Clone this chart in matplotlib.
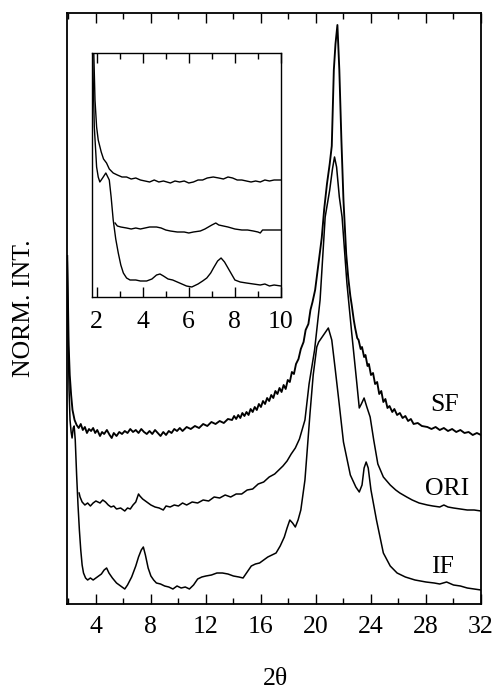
import numpy as np
import matplotlib
matplotlib.use("Agg")
import matplotlib.pyplot as plt
from matplotlib.ticker import FixedLocator

plt.rcParams['font.family'] = ['Liberation Serif', 'DejaVu Serif']

# ---------------- main pattern (2theta, intensity a.u.) ----------------
sf_x = [1.92, 1.97, 2.02, 2.1, 2.2, 2.3, 2.45, 2.6, 2.75, 2.9, 3.05, 3.2, 3.35, 3.5, 3.65, 3.8, 3.95,
        4.1, 4.3, 4.45, 4.6, 4.8, 5.0, 5.15, 5.3, 5.5, 5.7, 5.9, 6.1, 6.3, 6.5, 6.7, 6.9, 7.1, 7.3,
        7.5, 7.7, 7.9, 8.1, 8.3, 8.5, 8.7, 8.9, 9.1, 9.3, 9.5, 9.7, 9.9, 10.1, 10.3, 10.6, 10.9,
        11.2, 11.5, 11.8, 12.1, 12.4, 12.7, 13.0, 13.3, 13.6, 13.9, 14.05, 14.2, 14.35, 14.5,
        14.65, 14.8, 14.95, 15.1, 15.25, 15.4, 15.55, 15.7, 15.85, 16.0, 16.15, 16.3, 16.45, 16.6,
        16.75, 16.9, 17.05, 17.2, 17.35, 17.5, 17.65, 17.8, 17.95, 18.1, 18.25, 18.4, 18.55, 18.73,
        18.9, 19.1, 19.25, 19.45, 19.6, 19.75, 19.94, 20.2, 20.42, 20.6, 20.8, 21.0, 21.15, 21.3,
        21.42, 21.56, 21.7, 21.85, 22.0, 22.2, 22.35, 22.5, 22.6, 22.75, 22.85, 23.0, 23.1, 23.25,
        23.35, 23.5, 23.6, 23.75, 23.85, 24.0, 24.15, 24.3, 24.45, 24.6, 24.75, 24.9, 25.05, 25.2,
        25.35, 25.55, 25.7, 25.9, 26.1, 26.3, 26.5, 26.7, 26.9, 27.1, 27.4, 27.7, 28.1, 28.4,
        28.7, 29.0, 29.3, 29.6, 29.9, 30.2, 30.5, 30.8, 31.1, 31.4, 31.7, 32.0]
sf_y = [348, 304, 259, 229, 209, 194, 184, 179, 176, 180, 174, 177, 171, 175, 173, 176, 171,
        174, 168, 172, 170, 174, 169, 166, 171, 168, 172, 170, 173, 171, 175, 172, 174, 171, 175,
        172, 170, 173, 170, 174, 171, 168, 172, 169, 173, 171, 175, 173, 176, 173, 177, 175,
        178, 176, 180, 178, 182, 180, 183, 181, 185, 184, 188, 185, 189, 186,
        191, 188, 192, 189, 195, 192, 197, 194, 200, 197, 203, 200, 206, 203,
        209, 206, 213, 210, 216, 212, 219, 215, 224, 222, 232, 230, 240, 245,
        255, 262, 274, 280, 294, 302, 314, 342, 366, 395, 420, 440, 458, 534,
        560, 579, 534, 464, 404, 350, 326, 308, 299, 284, 276, 266, 264, 255,
        257, 247, 249, 238, 240, 229, 231, 220, 222, 210, 213, 202, 205, 196,
        198, 192, 195, 189, 191, 186, 188, 183, 185, 180, 181, 178, 177, 175,
        177, 174, 176, 173, 175, 172, 174, 171, 172, 169, 171, 169]

ori_x = [2.78, 2.85, 3.0, 3.2, 3.4, 3.6, 3.8, 4.0, 4.3, 4.5, 4.7, 4.9, 5.1, 5.3, 5.5, 5.8, 6.1,
         6.3, 6.5, 6.7, 6.9, 7.1, 7.2, 7.4, 7.7, 8.0, 8.3, 8.6, 8.9, 9.1, 9.4, 9.7, 10.0, 10.3,
         10.6, 11.0, 11.4, 11.8, 12.2, 12.6, 13.0, 13.4, 13.8, 14.2, 14.6, 15.0, 15.4, 15.8, 16.2,
         16.6, 17.0, 17.3, 17.6, 17.9, 18.2, 18.5, 18.8, 19.2, 19.5, 19.9, 20.3, 20.67, 21.0,
         21.2, 21.35, 21.5, 21.7, 21.9, 22.25, 22.6, 22.97, 23.15, 23.3, 23.5, 23.7, 23.94, 24.2,
         24.5, 24.9, 25.4, 25.8, 26.1, 26.6, 27.0, 27.5, 28.1, 28.5, 29.0, 29.3, 29.6, 30.0,
         30.5, 31.0, 31.5, 32.0]
ori_y = [111, 107, 102, 99, 101, 98, 101, 103, 101, 104, 102, 99, 97, 98, 95, 96, 93,
         96, 95, 99, 102, 110, 108, 105, 102, 99, 97, 96, 94, 98, 97, 99, 98, 101,
         99, 102, 101, 104, 103, 107, 106, 109, 107, 110, 110, 114, 115, 120, 122,
         127, 130, 134, 138, 143, 150, 156, 165, 184, 220, 254, 304, 387, 414,
         435, 447, 437, 407, 387, 321, 271, 221, 196, 200, 206, 197, 187, 164,
         140, 127, 119, 114, 111, 107, 104, 101, 99, 98, 97, 99, 97, 96,
         95, 94, 94, 93]

if_x = [1.92, 1.97, 2.05, 2.12, 2.2, 2.27, 2.35, 2.42, 2.5, 2.6, 2.7, 2.8, 2.9, 3.0, 3.1, 3.25,
        3.4, 3.6, 3.8, 4.0, 4.2, 4.4, 4.6, 4.78, 4.95, 5.2, 5.5, 5.8, 6.1, 6.3, 6.6, 6.9, 7.1,
        7.3, 7.45, 7.6, 7.8, 8.0, 8.2, 8.4, 8.7, 9.0, 9.3, 9.6, 9.9, 10.2, 10.5, 10.8, 11.1,
        11.4, 11.7, 12.0, 12.4, 12.8, 13.2, 13.6, 14.0, 14.4, 14.7, 15.0, 15.3, 15.6, 15.9,
        16.2, 16.5, 16.8, 17.1, 17.4, 17.7, 17.9, 18.1, 18.3, 18.5, 18.7, 18.9, 19.2, 19.57,
        19.8, 20.06, 20.2, 20.5, 20.9, 21.15, 21.4, 21.65, 22.0, 22.5, 22.9, 23.15, 23.35, 23.5,
        23.65, 23.8, 24.0, 24.4, 24.9, 25.4, 25.9, 26.5, 27.2, 28.0, 28.6, 29.0, 29.5, 30.0,
        30.5, 31.0, 31.5, 32.0]
if_y = [342, 284, 214, 184, 172, 166, 176, 178, 164, 129, 99, 74, 54, 39, 31, 26,
        24, 26, 24, 26, 28, 30, 34, 36, 31, 26, 21, 18, 15, 19, 27, 38, 47,
        54, 57, 49, 36, 28, 24, 21, 20, 18, 17, 15, 18, 16, 17, 15, 19,
        25, 27, 28, 29, 31, 31, 30, 28, 27, 26, 32, 38, 40, 41,
        44, 47, 49, 51, 58, 67, 76, 84, 81, 77, 84, 94, 124, 191,
        229, 257, 262, 268, 276, 264, 235, 205, 162, 129, 117, 112, 119, 136,
        142, 136, 114, 84, 51, 38, 31, 27, 24, 22, 21, 20, 22, 19,
        18, 16, 15, 14]

# ---------------- inset (low-angle region) ----------------
isf_x = [1.82, 1.88, 1.93, 2.0, 2.07, 2.2, 2.3, 2.43, 2.55, 2.72, 2.9, 3.1, 3.3, 3.5, 3.7, 3.9,
         4.1, 4.3, 4.5, 4.7, 4.9, 5.2, 5.4, 5.6, 5.8, 6.0, 6.2, 6.4, 6.6, 6.8, 7.06, 7.3, 7.5,
         7.7, 7.9, 8.1, 8.3, 8.5, 8.7, 8.9, 9.1, 9.3, 9.5, 9.7, 10.0]
isf_y = [260, 242, 197, 170, 157, 145, 138, 134, 128, 124, 122, 120, 120, 118, 119, 117,
         116, 115, 117, 115, 116, 114, 116, 115, 116, 114, 115, 117, 117, 119, 120, 119, 118,
         120, 119, 117, 117, 116, 115, 116, 115, 117, 116, 117, 117]

iori_x = [2.8, 2.9, 3.05, 3.3, 3.5, 3.7, 3.9, 4.1, 4.3, 4.6, 4.8, 5.0, 5.2, 5.5, 5.8, 6.0, 6.2,
          6.5, 6.7, 6.85, 7.0, 7.17, 7.3, 7.5, 7.7, 8.0, 8.3, 8.55, 8.8, 9.0, 9.1, 9.2, 9.4,
          9.7, 10.0]
iori_y = [74, 71, 70, 69, 68, 69, 68, 69, 70, 70, 69, 67, 66, 65, 65, 64, 65,
          66, 68, 70, 72, 74, 72, 71, 70, 68, 67, 67, 66, 65, 64, 67, 67,
          67, 67]

iif_x = [1.82, 1.9, 2.0, 2.07, 2.14, 2.26, 2.4, 2.55, 2.63, 2.72, 2.83, 2.94, 3.05, 3.16, 3.3,
         3.45, 3.7, 3.9, 4.17, 4.4, 4.6, 4.75, 4.9, 5.1, 5.3, 5.6, 5.9, 6.13, 6.4, 6.6, 6.78,
         6.95, 7.07, 7.25, 7.4, 7.55, 7.7, 7.85, 8.0, 8.23, 8.5, 8.8, 9.1, 9.3, 9.5, 9.7, 10.0]
iif_y = [250, 170, 130, 120, 115, 119, 124, 117, 100, 77, 58, 44, 32, 24, 19,
         17, 17, 16, 16, 18, 22, 23, 21, 18, 17, 14, 11, 10, 13, 16, 19,
         24, 29, 36, 39, 35, 29, 23, 17, 15, 14, 13, 12, 13, 11, 12, 11]

labels = ["SF", "ORI", "IF"]
main_ticks = [4, 8, 12, 16, 20, 24, 28, 32]
inset_ticks = [2, 4, 6, 8, 10]

W, H = 496, 693
fig = plt.figure(figsize=(W / 100, H / 100), dpi=100)
FS = 18.5

ax = fig.add_axes([67 / W, 1 - 604 / H, (481 - 67) / W, (604 - 13) / H])
ax.plot(sf_x, sf_y, color='black', lw=1.35)
ax.plot(ori_x, ori_y, color='black', lw=1.1)
ax.plot(if_x, if_y, color='black', lw=1.1)
ax.set_xlim(1.9, 32.0)
ax.set_ylim(0, 591)
ax.set_yticks([])
ax.xaxis.set_major_locator(FixedLocator(main_ticks))
ax.xaxis.set_minor_locator(FixedLocator([2, 6, 10, 14, 18, 22, 26, 30]))
ax.tick_params(axis='x', which='both', direction='in', top=True, bottom=True,
               labelsize=FS, pad=8.5)
ax.tick_params(axis='x', which='major', length=7, width=1.0)
ax.tick_params(axis='x', which='minor', length=4.5, width=1.0)
for s in ax.spines.values():
    s.set_linewidth(1.3)

ax.text(29.33, 199, labels[0], fontsize=FS, ha='center', va='center')
ax.text(29.55, 115, labels[1], fontsize=FS, ha='center', va='center')
ax.text(29.2, 37, labels[2], fontsize=FS, ha='center', va='center')

fig.text(24 / W, 1 - 308 / H, "NORM. INT.", rotation=90, ha='center', va='center', fontsize=FS)
fig.text(275 / W, 1 - 679 / H, "2θ", ha='center', va='center', fontsize=FS)

ins = fig.add_axes([92 / W, 1 - 297 / H, (281 - 92) / W, (297 - 53) / H])
ins.set_facecolor('white')
ins.plot(isf_x, isf_y, color='black', lw=1.0)
ins.plot(iori_x, iori_y, color='black', lw=1.0)
ins.plot(iif_x, iif_y, color='black', lw=1.0)
ins.set_xlim(1.8, 10.0)
ins.set_ylim(0, 244)
ins.set_yticks([])
ins.xaxis.set_major_locator(FixedLocator(inset_ticks))
ins.xaxis.set_minor_locator(FixedLocator([3, 5, 7, 9]))
ins.tick_params(axis='x', which='both', direction='in', top=True, bottom=True,
                labelsize=FS, pad=10)
ins.tick_params(axis='x', which='major', length=7, width=1.0)
ins.tick_params(axis='x', which='minor', length=4, width=1.0)
for s in ins.spines.values():
    s.set_linewidth(1.0)

fig.savefig("out.png", dpi=100)
